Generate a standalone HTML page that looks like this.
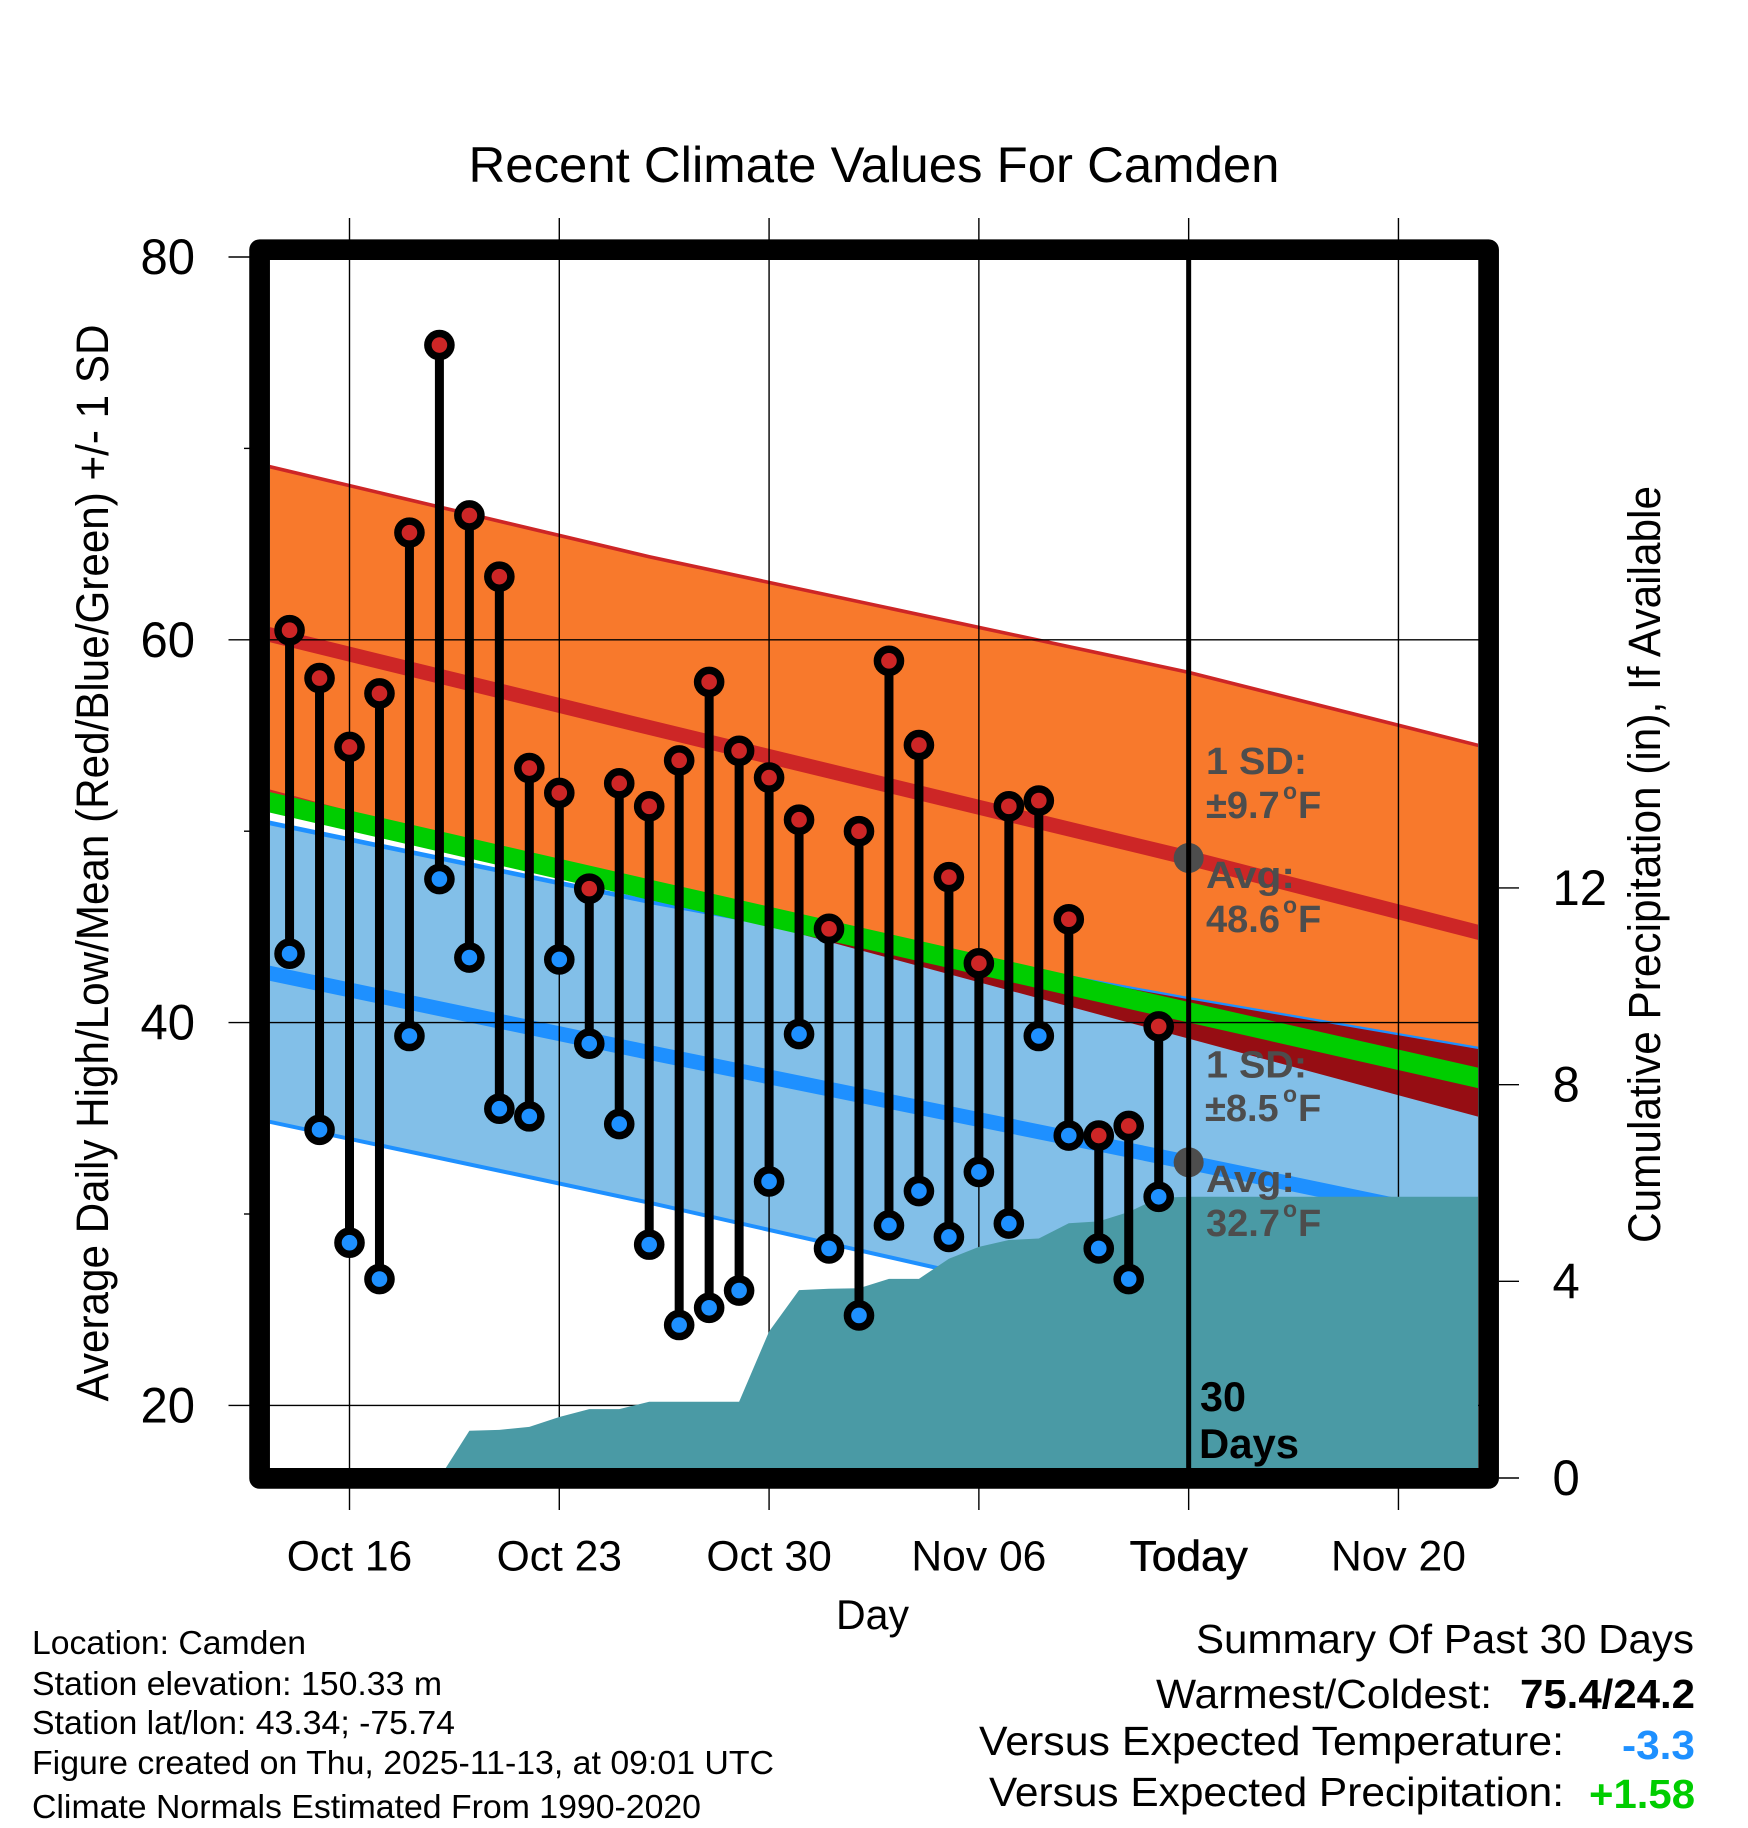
<!DOCTYPE html>
<html lang="en">
<head>
<meta charset="utf-8">
<title>Recent Climate Values For Camden</title>
<style>
  html,body{margin:0;padding:0;background:#fff;}
  body{width:1748px;height:1828px;overflow:hidden;}
  svg{display:block;font-family:"Liberation Sans",Arial,sans-serif;}
</style>
</head>
<body>
<svg id="chart" xmlns="http://www.w3.org/2000/svg" width="1748" height="1828" viewBox="0 0 1748 1828">
  <defs>
    <clipPath id="plot-clip"><rect x="270" y="260" width="1208" height="1208"/></clipPath>
    <clipPath id="low-band-clip"><polygon id="low-band-clip-shape" points=""/></clipPath>
  </defs>
  <rect x="0" y="0" width="1748" height="1828" fill="#ffffff"/>
  <g id="bands" clip-path="url(#plot-clip)"></g>
  <g id="grid"></g>
  <g id="precip" clip-path="url(#plot-clip)"></g>
  <g id="series"></g>
  <g id="today"></g>

  <g font-weight="bold" font-size="38" fill="#4d4d4d">
    <text x="1206" y="774" textLength="101" lengthAdjust="spacingAndGlyphs">1 SD:</text>
    <text y="818"><tspan x="1206">±9.7</tspan><tspan x="1283" dy="-19" font-size="23">o</tspan><tspan x="1298" dy="19">F</tspan></text>
    <text x="1206" y="888" textLength="89" lengthAdjust="spacingAndGlyphs">Avg:</text>
    <text y="932"><tspan x="1206">48.6</tspan><tspan x="1283" dy="-19" font-size="23">o</tspan><tspan x="1298" dy="19">F</tspan></text>
    <text x="1206" y="1077.5" textLength="101" lengthAdjust="spacingAndGlyphs">1 SD:</text>
    <text y="1121"><tspan x="1205">±8.5</tspan><tspan x="1283" dy="-19" font-size="23">o</tspan><tspan x="1298" dy="19">F</tspan></text>
    <text x="1206" y="1192" textLength="89" lengthAdjust="spacingAndGlyphs">Avg:</text>
    <text y="1236"><tspan x="1206">32.7</tspan><tspan x="1283" dy="-19" font-size="23">o</tspan><tspan x="1298" dy="19">F</tspan></text>
  </g>
  <g font-weight="bold" font-size="42" fill="#000">
    <text x="1200" y="1411" textLength="46" lengthAdjust="spacingAndGlyphs">30</text>
    <text x="1199" y="1458" textLength="100" lengthAdjust="spacingAndGlyphs">Days</text>
  </g>

  <rect x="259.6" y="249.7" width="1229" height="1228.7" fill="none" stroke="#000" stroke-width="20.7" stroke-linejoin="round"/>

  <text x="468.5" y="182" font-size="50" textLength="811" lengthAdjust="spacingAndGlyphs" fill="#000">Recent Climate Values For Camden</text>
  <text x="836" y="1629" font-size="42" textLength="73" lengthAdjust="spacingAndGlyphs" fill="#000">Day</text>
  <text transform="translate(108,1401.5) rotate(-90)" font-size="45" textLength="1077" lengthAdjust="spacingAndGlyphs" fill="#000">Average Daily High/Low/Mean (Red/Blue/Green) +/- 1 SD</text>
  <text transform="translate(1660,1243) rotate(-90)" font-size="45" textLength="757" lengthAdjust="spacingAndGlyphs" fill="#000">Cumulative Precipitation (in), If Available</text>

  <g font-size="33" fill="#000">
    <text x="32" y="1654" textLength="274" lengthAdjust="spacingAndGlyphs">Location: Camden</text>
    <text x="32" y="1695" textLength="410" lengthAdjust="spacingAndGlyphs">Station elevation: 150.33 m</text>
    <text x="32" y="1734" textLength="423" lengthAdjust="spacingAndGlyphs">Station lat/lon: 43.34; -75.74</text>
    <text x="32" y="1774" textLength="742" lengthAdjust="spacingAndGlyphs">Figure created on Thu, 2025-11-13, at 09:01 UTC</text>
    <text x="32" y="1818" textLength="669" lengthAdjust="spacingAndGlyphs">Climate Normals Estimated From 1990-2020</text>
  </g>

  <g font-size="41" fill="#000">
    <text x="1196" y="1653" textLength="498" lengthAdjust="spacingAndGlyphs">Summary Of Past 30 Days</text>
    <text x="1156" y="1708" textLength="336" lengthAdjust="spacingAndGlyphs">Warmest/Coldest:</text>
    <text x="1520" y="1708" textLength="175" lengthAdjust="spacingAndGlyphs" font-weight="bold">75.4/24.2</text>
    <text x="979" y="1755" textLength="585" lengthAdjust="spacingAndGlyphs">Versus Expected Temperature:</text>
    <text x="1622" y="1759" textLength="73" lengthAdjust="spacingAndGlyphs" font-weight="bold" fill="#1e90ff">-3.3</text>
    <text x="989" y="1806" textLength="575" lengthAdjust="spacingAndGlyphs">Versus Expected Precipitation:</text>
    <text x="1589" y="1808" textLength="106" lengthAdjust="spacingAndGlyphs" font-weight="bold" fill="#00cd00">+1.58</text>
  </g>
</svg>

<script>
// ---- chart data ----
var dayOffsets = [-2,-1,0,1,2,3,4,5,6,7,8,9,10,11,12,13,14,15,16,17,18,19,20,21,22,23,24,25,26,27];
var dailyHigh = [60.5,58.0,54.4,57.2,65.6,75.4,66.5,63.3,53.3,52.0,47.0,52.5,51.3,53.7,57.8,54.2,52.8,50.6,44.9,50.0,58.9,54.5,47.6,43.1,51.3,51.6,45.4,34.1,34.6,39.8];
var dailyLow = [43.6,34.4,28.5,26.6,39.3,47.5,43.4,35.5,35.1,43.3,38.9,34.7,28.4,24.2,25.1,26.0,31.7,39.4,28.2,24.7,29.4,31.2,28.8,32.2,29.5,39.3,34.1,28.2,26.6,30.9];

var normalDays = [-3,10,28,38];
var highPlusSd = [69.17,64.34,58.3,54.35];
var highMean = [60.4,55.42,48.6,44.58];
var highMinusSd = [52.23,46.75,39.16,34.94];
var meanNormal = [51.63,46.95,40.54,36.99];
var lowPlusSd = [50.54,46.32,41.22,38.53];
var lowMean = [42.69,38.44,32.7,29.44];
var lowMinusSd = [34.93,30.59,24.2,20.58];

var precipDays = [3,4,5,6,7,8,9,10,11,12,13,14,15,16,17,18,19,20,21,22,23,24,25,26,27,28,38];
var precipValues = [0,0.96,0.98,1.04,1.24,1.40,1.40,1.55,1.55,1.55,1.55,2.98,3.82,3.85,3.86,4.05,4.05,4.46,4.70,4.84,4.87,5.18,5.22,5.41,5.70,5.72,5.72];

var xTickDays = [0,7,14,21,28,35];
var xTickLabels = ['Oct 16','Oct 23','Oct 30','Nov 06','Today','Nov 20'];
var yMajorTicks = [20,40,60,80];
var yMinorTicks = [30,50,70];
var precipTicks = [0,4,8,12];
var todayDay = 28;

// ---- axis functions ----
function xScale(day){ return 349.5 + day * 29.97; }
function yScale(temp){ return 257 + (80 - temp) * 19.14; }
function yPrecip(inches){ return 1478 - inches * 49.17; }

var NS = 'http://www.w3.org/2000/svg';
function make(tag, parent, attrs){
  var el = document.createElementNS(NS, tag);
  for (var k in attrs) { el.setAttribute(k, attrs[k]); }
  parent.appendChild(el);
  return el;
}
function linePoints(values){
  return normalDays.map(function(d, i){ return xScale(d) + ',' + yScale(values[i]); });
}
function bandPoints(upper, lower){
  return linePoints(upper).concat(linePoints(lower).reverse()).join(' ');
}
function condense(el, factor){
  el.setAttribute('textLength', el.getComputedTextLength() * factor);
  el.setAttribute('lengthAdjust', 'spacingAndGlyphs');
}

var bands = document.getElementById('bands');
var grid = document.getElementById('grid');
var precip = document.getElementById('precip');
var series = document.getElementById('series');
var today = document.getElementById('today');

// ---- bands ----
var highBand = make('polygon', bands, {points: bandPoints(highPlusSd, highMinusSd), fill: '#f8792c'});



var highTopLine = make('polyline', bands, {points: linePoints(highPlusSd).join(' '), fill: 'none', stroke: '#cd2626', 'stroke-width': 3.6});



var highBottomLine = make('polyline', bands, {points: linePoints(highMinusSd).join(' '), fill: 'none', stroke: '#cd2626', 'stroke-width': 3.6});



var lowBand = make('polygon', bands, {points: bandPoints(lowPlusSd, lowMinusSd), fill: '#82bfe8'});



var lowTopLine = make('polyline', bands, {points: linePoints(lowPlusSd).join(' '), fill: 'none', stroke: '#1e90ff', 'stroke-width': 4.6});



document.getElementById('low-band-clip-shape').setAttribute('points', bandPoints(lowPlusSd, lowMinusSd));
var overlapBand = make('polygon', bands, {points: bandPoints(highPlusSd, highMinusSd), fill: '#960d13', 'clip-path': 'url(#low-band-clip)'});



var lowBottomLine = make('polyline', bands, {points: linePoints(lowMinusSd).join(' '), fill: 'none', stroke: '#1e90ff', 'stroke-width': 4});



var highMeanLine = make('polyline', bands, {points: linePoints(highMean).join(' '), fill: 'none', stroke: '#cd2626', 'stroke-width': 14.8});



var lowMeanLine = make('polyline', bands, {points: linePoints(lowMean).join(' '), fill: 'none', stroke: '#1e90ff', 'stroke-width': 14.8});



var meanLine = make('polyline', bands, {points: linePoints(meanNormal).join(' '), fill: 'none', stroke: '#00cd00', 'stroke-width': 20});



// ---- grid and ticks ----
xTickDays.forEach(function(d, i){
  var gl = make('line', grid, {x1: xScale(d), x2: xScale(d), y1: 218, y2: 1510, stroke: '#000', 'stroke-width': 1.4});
  
  
  var lab = make('text', grid, {x: xScale(d), y: 1570.7, 'text-anchor': 'middle', 'font-size': 43, fill: '#000'});
  lab.textContent = xTickLabels[i];
  
  
  if (d === todayDay) { lab.setAttribute('stroke', '#000'); lab.setAttribute('stroke-width', '0.6'); }
  condense(lab, d === todayDay ? 1.03 : 0.99);
});
yMajorTicks.forEach(function(v){
  var gl = make('line', grid, {x1: 228.5, x2: 1488, y1: yScale(v), y2: yScale(v), stroke: '#000', 'stroke-width': 1.4});
  
  
  var lab = make('text', grid, {x: 195, y: yScale(v) + 17, 'text-anchor': 'end', 'font-size': 50, fill: '#000'});
  lab.textContent = String(v);
  
  
  condense(lab, 0.98);
});
yMinorTicks.forEach(function(v){
  var t = make('line', grid, {x1: 244, x2: 250, y1: yScale(v), y2: yScale(v), stroke: '#000', 'stroke-width': 1.4});
  
  
});
precipTicks.forEach(function(v){
  var t = make('line', grid, {x1: 1499, x2: 1519, y1: yPrecip(v), y2: yPrecip(v), stroke: '#000', 'stroke-width': 1.4});
  
  
  var lab = make('text', grid, {x: 1552.5, y: yPrecip(v) + 17, 'font-size': 50, fill: '#000'});
  lab.textContent = String(v);
  
  
  condense(lab, 0.98);
});

// ---- cumulative precipitation ----
var precipPts = precipDays.map(function(d, i){ return xScale(d) + ',' + yPrecip(precipValues[i]); });
precipPts.push(xScale(precipDays[precipDays.length - 1]) + ',' + yPrecip(0));
precipPts.push(xScale(precipDays[0]) + ',' + yPrecip(0));
var precipArea = make('polygon', precip, {points: precipPts.join(' '), fill: '#4a9aa5'});



// ---- daily highs and lows ----
dayOffsets.forEach(function(d, i){
  var stem = make('line', series, {x1: xScale(d), x2: xScale(d), y1: yScale(dailyHigh[i]), y2: yScale(dailyLow[i]), stroke: '#000', 'stroke-width': 9});
  
  
});
dayOffsets.forEach(function(d, i){
  var hi = make('circle', series, {cx: xScale(d), cy: yScale(dailyHigh[i]), r: 11.55, fill: '#cd2626', stroke: '#000', 'stroke-width': 7.5});
  
  
  var lo = make('circle', series, {cx: xScale(d), cy: yScale(dailyLow[i]), r: 11.55, fill: '#1e90ff', stroke: '#000', 'stroke-width': 7.5});
  
  
});

// ---- today ----
var todayHighDot = make('circle', today, {cx: xScale(todayDay), cy: yScale(highMean[2]), r: 15, fill: '#4d4d4d'});


var todayLowDot = make('circle', today, {cx: xScale(todayDay), cy: yScale(lowMean[2]), r: 15, fill: '#4d4d4d'});


var todayLine = make('line', today, {x1: xScale(todayDay), x2: xScale(todayDay), y1: 255, y2: 1472, stroke: '#000', 'stroke-width': 5});


</script>
</body>
</html>
